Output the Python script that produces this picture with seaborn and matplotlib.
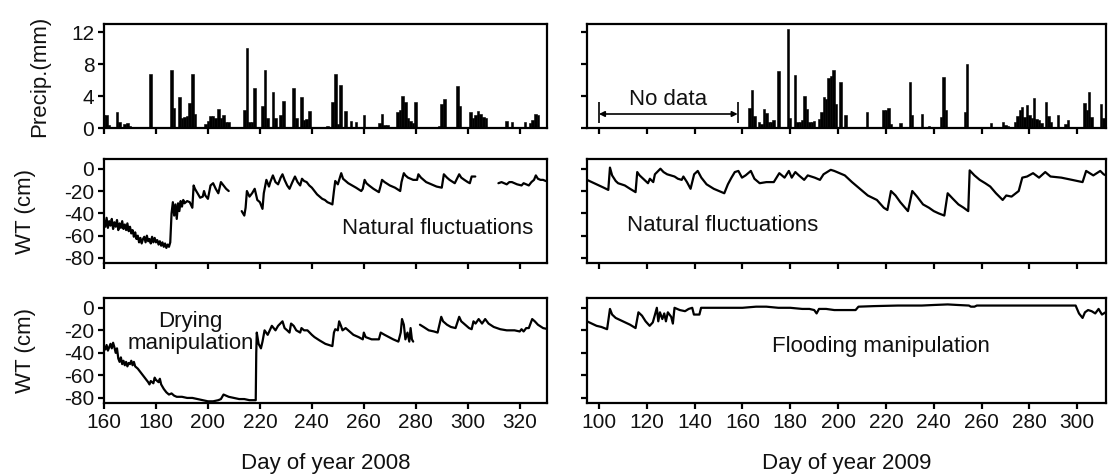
import numpy as np
import pandas as pd
import matplotlib
matplotlib.use("Agg")
import matplotlib.pyplot as plt
import seaborn as sns

nan = np.nan

# ---------------- Precipitation (mm), daily ----------------
p08_days = [160, 161, 162, 165, 166, 168, 169, 170, 178, 186, 187, 189, 190, 191, 192, 193,
            194, 195, 199, 200, 201, 202, 203, 204, 205, 206, 207, 208, 214, 215, 216, 217,
            218, 221, 222, 223, 225, 226, 228, 229, 233, 234, 236, 237, 238, 239, 246, 248,
            249, 250, 251, 253, 255, 257, 260, 266, 267, 268, 269, 273, 274, 275, 276, 277,
            278, 279, 280, 289, 290, 291, 296, 297, 301, 302, 303, 304, 305, 306, 307, 315,
            317, 322, 324, 325, 326, 327]
p08_vals = [1.6, 1.6, 0.4, 2.0, 0.8, 0.5, 0.6, 0.3, 6.7, 7.3, 2.5, 3.9, 1.2, 1.4, 1.5, 3.1,
            6.7, 1.8, 0.5, 0.9, 1.5, 1.5, 1.3, 2.4, 1.2, 1.6, 0.8, 0.8, 2.3, 10.0, 0.8, 0.7,
            5.0, 2.7, 7.3, 1.2, 4.5, 1.2, 1.6, 3.4, 5.0, 1.2, 3.9, 1.0, 1.1, 2.1, 0.2, 3.3,
            6.7, 0.5, 5.4, 2.1, 0.9, 0.7, 1.6, 0.6, 1.8, 0.4, 0.4, 2.0, 2.2, 4.0, 3.2, 1.2,
            0.9, 0.6, 3.2, 0.2, 3.0, 3.6, 5.3, 2.7, 2.0, 1.2, 1.6, 2.1, 1.8, 1.4, 1.2, 0.9,
            0.8, 0.7, 0.6, 1.0, 1.8, 1.6]

p09_days = [163, 164, 165, 167, 168, 169, 170, 171, 172, 173, 175, 179, 180, 182, 183, 184,
            185, 186, 187, 188, 189, 190, 192, 193, 194, 195, 196, 197, 198, 199, 201, 203,
            212, 219, 220, 221, 222, 226, 230, 231, 235, 238, 243, 244, 245, 253, 254, 264,
            269, 270, 271, 274, 275, 276, 277, 278, 279, 280, 281, 282, 283, 284, 285, 287,
            288, 289, 292, 295, 296, 303, 304, 305, 306, 310, 311]
p09_vals = [2.5, 4.8, 1.5, 0.7, 0.5, 2.4, 1.9, 0.7, 0.8, 1.0, 7.1, 12.4, 1.2, 6.6, 0.8, 0.7,
            1.0, 4.0, 2.4, 0.8, 0.8, 0.9, 1.1, 2.0, 3.9, 3.6, 6.3, 6.5, 7.2, 3.0, 5.8, 1.6,
            2.0, 2.3, 2.2, 2.5, 0.5, 0.6, 5.7, 1.6, 1.7, 0.2, 1.4, 6.4, 2.2, 2.0, 8.0, 0.6,
            0.8, 0.4, 0.3, 0.8, 1.5, 2.2, 2.6, 1.4, 2.9, 1.6, 1.2, 3.8, 1.1, 1.0, 0.6, 3.3,
            1.5, 0.8, 1.6, 0.5, 1.0, 3.1, 2.3, 4.5, 1.4, 3.0, 1.2]

nodata_span = [100, 158]   # 2009 precipitation gap (day of year)

# ---------------- Water table (cm): 2008 natural ----------------
wt08_nat_days = [160, 160.5, 161, 161.5, 162, 162.5, 163, 163.5, 164, 164.5, 165, 165.5, 166, 166.5,
                 167, 167.5, 168, 168.5, 169, 169.5, 170, 170.5, 171, 171.5, 172, 172.5, 173, 173.5,
                 174, 174.5, 175, 175.5, 176, 176.5, 177, 177.5, 178, 178.5, 179, 179.5, 180, 180.5,
                 181, 181.5, 182, 182.5, 183, 183.5, 184, 184.5, 185, 185.5, 186, 186.5, 187, 187.5,
                 188, 188.5, 189, 189.5, 190, 190.5, 191, 192, 193, 194, 194.5, 195, 196, 197, 198,
                 198.5, 199, 200, 200.5, 201, 202, 203, 204, 205, 206, 207, 208,
                 210,
                 213, 214, 214.5, 215, 216, 217, 218, 219, 220, 221, 221.5, 222.5, 223.5, 224, 225,
                 226, 227, 228, 228.7, 229.5, 230.5, 231.4, 232.5, 233.5, 234.5, 235.5, 236.2, 237,
                 238, 239, 240, 241, 242, 243, 244, 245, 246, 247, 247.9, 248.5, 249, 250, 251.3,
                 252, 253, 254, 255.5, 257, 259, 259.6, 260.3, 261, 262, 263.7, 265.8, 266.5, 267,
                 268, 270, 272, 274, 274.5, 275.4, 276, 277, 279, 280.5, 281, 282, 284, 286, 288,
                 290, 290.8, 292, 293, 295, 296.7, 297.5, 298.7, 300, 300.8, 301.5, 302.9,
                 307,
                 311.8, 313, 314, 315, 316, 317, 318, 319, 320.7, 321.5, 322.5, 323.5, 324.5, 325.5,
                 326.2, 327, 328, 329, 330, 331]
wt08_nat_vals = [-46, -52, -44, -53, -47, -51, -45, -54, -48, -52, -46, -55, -49, -53,
                 -47, -54, -50, -55, -49, -56, -52, -58, -55, -61, -57, -63, -60, -66,
                 -62, -67, -63, -61, -66, -60, -65, -63, -67, -61, -66, -62, -66, -64,
                 -68, -65, -69, -66, -70, -67, -71, -68, -70, -66, -40, -30, -42, -32,
                 -45, -31, -38, -29, -34, -28, -31, -29, -30, -35, -15, -18, -22, -26, -25,
                 -20, -24, -27, -21, -15, -13, -18, -22, -12, -15, -18, -20,
                 nan,
                 -38, -42, -35, -20, -25, -22, -18, -28, -30, -36, -22, -10, -16, -12, -6,
                 -12, -14, -8, -5, -10, -15, -18, -12, -7, -12, -15, -9, -11,
                 -12, -15, -17, -20, -23, -25, -27, -28, -30, -31, -32, -20, -11, -14, -4,
                 -9, -11, -13, -15, -17, -20, -18, -10, -13, -15, -18, -21, -15, -10,
                 -12, -15, -17, -20, -12, -4, -6, -8, -10, -10, -5, -8, -12, -14, -16,
                 -17, -5, -8, -10, -13, -5, -8, -10, -12, -13, -7, -7,
                 nan,
                 -13, -12, -13, -14, -12, -12, -13, -14, -15, -13, -14, -15, -12, -10,
                 -6, -9, -10, -10, -11, -11]

# ---------------- Water table (cm): 2009 natural ----------------
wt09_nat_days = [95, 96, 98, 100, 102, 103.9, 104.6, 105.5, 107, 108, 110.8, 113, 115.3, 116, 117,
                 118.5, 120.5, 121.3, 122.7, 123.4, 125.7, 127, 128.5, 131.6, 133, 134.6, 135.3,
                 136.8, 138.3, 139.8, 141.3, 142.8, 145, 148, 152.4, 153.9, 155.4, 156.8, 158.3,
                 159.8, 161.3, 163.5, 165, 167.2, 170, 173.1, 175.4, 177.6, 179.4, 180.6, 182.1,
                 183.6, 185.8, 187.3, 190.2, 192.4, 193.9, 196.9, 198.4, 200.6, 202.8, 205.8, 208,
                 210.2, 212.4, 216.2, 219.1, 220.6, 222.1, 224, 226, 228, 229.2, 231, 233, 235.5,
                 238, 240, 242, 244.4, 245.8, 248, 250.3, 252.5, 254.4, 255, 257, 259.2, 261.5,
                 263.6, 266, 268.8, 270.3, 272.5, 275.5, 277, 279, 281.5, 284, 286.6, 288.8, 293.3,
                 297.8, 302.2, 303.7, 306.7, 309.6, 311, 312]
wt09_nat_vals = [-10, -11, -13, -15, -17, -19, 1, -6, -11, -13, -15, -18, -21, -3, -6,
                 -9, -13, -9, -12, -5, 0, -3, -5, -7, -9, -10, -7,
                 -12, -18, -5, -2, -8, -14, -18, -22, -14, -8, -3, -2,
                 -8, -6, -2, -9, -13, -12, -12, -4, -8, -2, -8, -3,
                 -6, -10, -6, -8, -10, -5, -1, -2, -4, -6, -12, -16,
                 -20, -24, -28, -35, -37, -20, -24, -30, -35, -38, -20, -25, -32,
                 -35, -38, -40, -42, -22, -27, -32, -35, -38, -1.5, -6, -10, -13,
                 -16, -22, -28, -24, -25, -20, -8, -7, -4, -8, -3, -7, -8,
                 -10, -12, -2, -6, -2, -5, -6]

# ---------------- Water table (cm): 2008 drying ----------------
wt08_dry_days = [160, 160.5, 161, 161.5, 162, 162.5, 163, 163.5, 164, 164.5, 165, 165.5, 166, 166.5,
                 167, 167.5, 168, 168.5, 169, 169.5, 170, 170.5, 171, 171.5, 172, 173, 174, 175, 176,
                 177, 177.5, 178, 179, 179.5, 180, 181, 181.5, 182, 183, 184, 185, 186, 187, 188,
                 190, 192, 194, 196, 198, 200, 202, 204, 205, 206, 207, 208, 210, 212, 214, 216,
                 218.4, 218.6, 218.8, 219.5, 220.4, 221, 221.8, 223, 224.6, 226, 227, 228.7, 229.5,
                 230.5, 231.4, 232, 233, 234, 235.5, 236, 237, 238.3, 240, 241, 243, 245.2, 247.9,
                 248.5, 249, 250, 250.5, 251.2, 251.8, 253, 254.5, 256, 258, 259.6, 260, 260.7, 263,
                 265.8, 266.5, 268, 271.3, 273.3, 274.2, 274.7, 275.4, 276, 276.8, 277.5, 278,
                 278.5, 279,
                 280.5,
                 281.6, 283, 285, 287, 288.4, 289.8, 290.5, 292, 293.5, 295.3, 296.7, 297.5, 299,
                 300.5, 301.5, 302.2, 303, 304.2, 305.5, 306.7, 308, 310, 312.5, 315, 318, 320,
                 320.7, 321.5, 322.5, 323.5, 324.8, 325.8, 327, 329, 331]
wt08_dry_vals = [-34, -37, -33, -38, -35, -32, -36, -31, -35, -40, -36, -45, -48, -44,
                 -50, -47, -51, -48, -52, -49, -50, -47, -51, -48, -52, -54, -57, -60, -63,
                 -66, -68, -65, -67, -62, -64, -66, -63, -68, -72, -75, -77, -76, -78, -79,
                 -79, -80, -80, -81, -82, -83, -83, -82, -81, -77, -78, -79, -80, -81, -81, -82,
                 -82, -40, -22, -32, -36, -30, -20, -24, -16, -20, -16, -12, -18,
                 -20, -22, -14, -16, -20, -22, -18, -20, -20, -24, -26, -29, -32, -34,
                 -22, -19, -20, -12, -16, -20, -18, -21, -24, -26, -28, -22, -26, -28,
                 -28, -22, -24, -28, -30, -22, -10, -15, -28, -22, -30, -18,
                 -28, -30,
                 nan,
                 -15, -17, -20, -21, -22, -8, -12, -15, -17, -18, -8, -12, -15,
                 -18, -19, -12, -14, -10, -14, -10, -14, -17, -19, -20, -20, -21,
                 -19, -21, -18, -18, -10, -12, -15, -18, -19]

# ---------------- Water table (cm): 2009 flooding ----------------
wt09_fld_days = [95, 97, 99, 101, 103.4, 104.6, 105.5, 107, 110, 113, 115.3, 116.5, 118, 119.5,
                 121.2, 122.5, 123.3, 124.2, 124.8, 125.5, 126.5, 127.3, 128, 128.8, 130.2, 130.9,
                 131.6, 133.8, 136, 137.5, 139, 139.7, 141.2, 142, 142.7, 148, 153.9, 160, 165.7,
                 170, 175, 180, 185, 188, 190, 191, 192, 195, 198.4, 203, 207.3, 208.5, 215, 225,
                 235, 240, 245.8, 250, 254.7, 255.5, 257, 258, 270, 280, 290, 299.3, 300.7, 302.2,
                 303.2, 304.5, 306, 307.5, 308.9, 310.3, 311.8]
wt09_fld_vals = [-12, -14, -16, -17, -19, -1, -6, -9, -12, -15, -18, -4, -7, -12,
                 -16, -13, -7, 0, -12, -4, -10, -5, -12, -4, -8, -14,
                 0, -2, -3, -1, 0, -6, -6, -6, 0, 0, 0, 0, 1,
                 1, 0, 0, -1, -1, -2, -5, -1, -1, -2, -2, -2, 1, 1.5, 2,
                 2, 2.5, 3, 2.5, 2, 1, 1, 2, 2, 2, 2, 2, -5, -9,
                 -4, -2, -3, -5, -1, -6, -4]

ticks08 = list(range(160, 321, 20))
ticks09 = list(range(100, 301, 20))
precip_ticks = [0, 4, 8, 12]
wt_ticks = [0, -20, -40, -60, -80]
wt_ticklabels = ["0", "-20", "-40", "-60", "-80"]

# ---------------- style ----------------
sns.set_theme(style="ticks")
plt.rcParams["font.family"] = ["Liberation Sans", "DejaVu Sans"]
plt.rcParams["axes.unicode_minus"] = False
plt.rcParams["axes.linewidth"] = 1.6
plt.rcParams["axes.edgecolor"] = "black"

W, H = 1108, 475
fig = plt.figure(figsize=(W / 100, H / 100), dpi=100)


def add_ax(l, t, r, b):
    return fig.add_axes([l / W, 1 - b / H, (r - l) / W, (b - t) / H])


rows = [(24, 128), (159, 263), (298, 403)]
cols = [(104, 547), (587, 1106)]
axes = [[add_ax(c[0], r[0], c[1], r[1]) for c in cols] for r in rows]


def wt_frame(days, vals):
    d = pd.DataFrame({"day": days, "wt": vals})
    d["seg"] = d["wt"].isna().cumsum()
    return d.dropna()


def style_axis(ax, xlim, xticks, left):
    ax.set_xlim(*xlim)
    ax.set_xticks(xticks)
    for s in ax.spines.values():
        s.set_visible(True)
        s.set_linewidth(1.6)
        s.set_color("black")
    ax.tick_params(axis="both", direction="out", length=4, width=1.6, color="black",
                   labelsize=15, labelcolor="#111111", pad=3)
    if not left:
        ax.tick_params(axis="y", labelleft=False)
    ax.set_xlabel("")
    ax.set_ylabel("")


# precipitation panels
for j, (days, vals) in enumerate([(p08_days, p08_vals), (p09_days, p09_vals)]):
    ax = axes[0][j]
    sns.histplot(x=days, weights=vals, discrete=True, shrink=1.0, color="black",
                 edgecolor="black", linewidth=0.4, alpha=1, ax=ax)
    ax.set_ylim(0, 13)
    ax.set_yticks(precip_ticks)

# water table panels
wt_sets = [[(wt08_nat_days, wt08_nat_vals), (wt09_nat_days, wt09_nat_vals)],
           [(wt08_dry_days, wt08_dry_vals), (wt09_fld_days, wt09_fld_vals)]]
for i in range(2):
    for j in range(2):
        ax = axes[i + 1][j]
        df = wt_frame(*wt_sets[i][j])
        sns.lineplot(data=df, x="day", y="wt", units="seg", estimator=None, color="black",
                     linewidth=1.6, ax=ax, legend=False)
        ax.set_ylim(-84.5, 8.7)
        ax.set_yticks(wt_ticks)
        ax.set_yticklabels(wt_ticklabels)

for i in range(3):
    style_axis(axes[i][0], (160, 330.5), ticks08, True)
    style_axis(axes[i][1], (95, 312), ticks09, False)
    if i < 2:
        axes[i][0].tick_params(axis="x", labelbottom=False)
        axes[i][1].tick_params(axis="x", labelbottom=False)

# labels
axes[0][0].set_ylabel("Precip.(mm)", fontsize=16, color="#111111")
axes[0][0].yaxis.set_label_coords(-0.122, 0.5)
for i in (1, 2):
    axes[i][0].set_ylabel("WT (cm)", fontsize=16, color="#111111")
    axes[i][0].yaxis.set_label_coords(-0.153, 0.5)
axes[2][0].set_xlabel("Day of year 2008", fontsize=16, color="#111111", labelpad=15)
axes[2][1].set_xlabel("Day of year 2009", fontsize=16, color="#111111", labelpad=15)

# annotations
axp = axes[0][1]
axp.annotate("", xy=(nodata_span[0], 1.75), xytext=(nodata_span[1], 1.75),
             arrowprops=dict(arrowstyle="<|-|>", color="black", lw=1.2, shrinkA=0, shrinkB=0,
                             mutation_scale=8))
axp.vlines(nodata_span, 0.6, 3.2, color="black", lw=1.2)
axp.text(sum(nodata_span) / 2, 2.3, "No data", ha="center", va="bottom", fontsize=16,
         color="#111111")

axes[1][0].text(0.97, 0.33, "Natural fluctuations", transform=axes[1][0].transAxes,
                ha="right", va="center", fontsize=16, color="#111111")
axes[1][1].text(0.077, 0.36, "Natural fluctuations", transform=axes[1][1].transAxes,
                ha="left", va="center", fontsize=16, color="#111111")
axes[2][0].text(0.195, 0.67, "Drying\nmanipulation", transform=axes[2][0].transAxes,
                ha="center", va="center", fontsize=16, color="#111111", linespacing=1.1)
axes[2][1].text(0.566, 0.54, "Flooding manipulation", transform=axes[2][1].transAxes,
                ha="center", va="center", fontsize=16, color="#111111")

fig.savefig("out.png", dpi=100)
